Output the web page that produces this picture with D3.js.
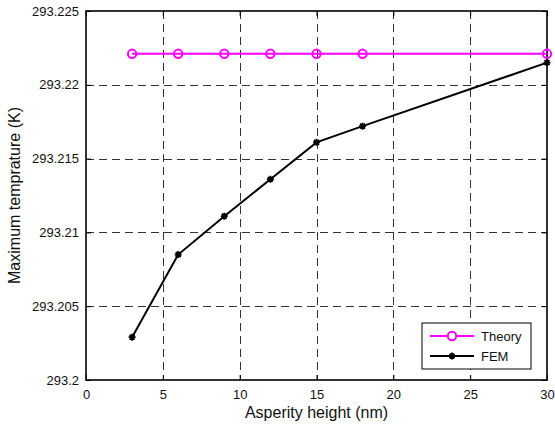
<!DOCTYPE html>
<html>
<head>
<meta charset="utf-8">
<script src="https://cdn.jsdelivr.net/npm/d3@7/dist/d3.min.js"></script>
<style>
  html, body { margin: 0; padding: 0; background: #fff; }
  svg { display: block; font-family: "Liberation Sans", Arial, sans-serif; }
</style>
</head>
<body>
<svg id="chart" width="555" height="430"></svg>
<script>
// ---- data ----
const asperityHeight = [3, 6, 9, 12, 15, 18, 30];
const theoryValues = [293.2221, 293.2221, 293.2221, 293.2221, 293.2221, 293.2221, 293.2221];
const femValues = [293.2029, 293.2085, 293.2111, 293.2136, 293.2161, 293.2172, 293.2215];
const xTicks = [0, 5, 10, 15, 20, 25, 30];
const xTickLabels = ["0", "5", "10", "15", "20", "25", "30"];
const yTicks = [293.2, 293.205, 293.21, 293.215, 293.22, 293.225];
const yTickLabels = ["293.2", "293.205", "293.21", "293.215", "293.22", "293.225"];
const seriesNames = ["Theory", "FEM"];

// ---- layout ----
const L = 86, R = 547, T = 11, B = 380;
const svg = d3.select("#chart");
svg.append("rect").attr("width", 555).attr("height", 430).attr("fill", "#fff");

const x = d3.scaleLinear().domain([0, 30]).range([L, R]);
const y = d3.scaleLinear().domain([293.2, 293.225]).range([B, T]);

// grid
const grid = svg.append("g").attr("stroke", "#333").attr("stroke-width", 1)
  .attr("stroke-dasharray", "8,5").attr("fill", "none");
xTicks.filter(v => v > 0 && v < 30).forEach(v => {
  grid.append("line").attr("x1", Math.round(x(v)) + 0.5).attr("x2", Math.round(x(v)) + 0.5)
    .attr("y1", T).attr("y2", B);
});
yTicks.filter(v => v > 293.2 && v < 293.225).forEach(v => {
  grid.append("line").attr("y1", Math.round(y(v)) + 0.5).attr("y2", Math.round(y(v)) + 0.5)
    .attr("x1", L).attr("x2", R);
});

// axes (inward ticks)
const fmtX = (d, i) => xTickLabels[xTicks.indexOf(d)];
const fmtY = (d) => yTickLabels[yTicks.indexOf(d)];
const axB = svg.append("g").attr("transform", `translate(0,${B})`)
  .call(d3.axisBottom(x).tickValues(xTicks).tickFormat(fmtX).tickSizeInner(-5).tickSizeOuter(0).tickPadding(10));
const axT = svg.append("g").attr("transform", `translate(0,${T})`)
  .call(d3.axisTop(x).tickValues(xTicks).tickFormat("").tickSizeInner(-5).tickSizeOuter(0));
const axL = svg.append("g").attr("transform", `translate(${L},0)`)
  .call(d3.axisLeft(y).tickValues(yTicks).tickFormat(fmtY).tickSizeInner(-5).tickSizeOuter(0).tickPadding(7));
const axR = svg.append("g").attr("transform", `translate(${R},0)`)
  .call(d3.axisRight(y).tickValues(yTicks).tickFormat("").tickSizeInner(-5).tickSizeOuter(0));
[axB, axT, axL, axR].forEach(a => {
  a.selectAll(".domain").remove();
  a.selectAll("line").attr("stroke", "#000").attr("stroke-width", 1);
  a.selectAll("text").attr("font-size", 13).attr("fill", "#111")
    .attr("font-family", "'Liberation Sans', Arial, sans-serif");
});
// frame
svg.append("rect").attr("x", L).attr("y", T).attr("width", R - L).attr("height", B - T)
  .attr("fill", "none").attr("stroke", "#000").attr("stroke-width", 1.6);

// series
const line = d3.line().x(d => x(d[0])).y(d => y(d[1]));
const theoryData = asperityHeight.map((h, i) => [h, theoryValues[i]]);
const femData = asperityHeight.map((h, i) => [h, femValues[i]]);

svg.append("path").datum(theoryData).attr("d", line)
  .attr("fill", "none").attr("stroke", "#ff00ff").attr("stroke-width", 2);
svg.append("path").datum(femData).attr("d", line)
  .attr("fill", "none").attr("stroke", "#000").attr("stroke-width", 2);

function star(g, cx, cy) {
  const s = 3.5;
  g.append("path")
    .attr("d", `M${cx - s},${cy}L${cx + s},${cy}M${cx},${cy - s}L${cx},${cy + s}` +
      `M${cx - s * 0.7},${cy - s * 0.7}L${cx + s * 0.7},${cy + s * 0.7}M${cx - s * 0.7},${cy + s * 0.7}L${cx + s * 0.7},${cy - s * 0.7}`)
    .attr("stroke", "#000").attr("stroke-width", 1.8).attr("fill", "none");
}

svg.append("g").selectAll("circle").data(theoryData).join("circle")
  .attr("cx", d => x(d[0])).attr("cy", d => y(d[1])).attr("r", 4.2)
  .attr("fill", "none").attr("stroke", "#ff00ff").attr("stroke-width", 2);
const femG = svg.append("g");
femData.forEach(d => star(femG, x(d[0]), y(d[1])));

// axis labels
svg.append("text").attr("x", (L + R) / 2).attr("y", 418).attr("text-anchor", "middle")
  .attr("font-size", 16).attr("fill", "#111").text("Asperity height (nm)");
svg.append("text").attr("transform", `translate(20,${(T + B) / 2}) rotate(-90)`)
  .attr("text-anchor", "middle").attr("font-size", 16).attr("fill", "#111")
  .text("Maximum temprature (K)");

// legend
const lg = svg.append("g");
lg.append("rect").attr("x", 422).attr("y", 323).attr("width", 109).attr("height", 46)
  .attr("fill", "#fff").attr("stroke", "#000").attr("stroke-width", 1);
const rows = [336, 356];
lg.append("line").attr("x1", 430).attr("x2", 474).attr("y1", rows[0]).attr("y2", rows[0])
  .attr("stroke", "#ff00ff").attr("stroke-width", 2);
lg.append("circle").attr("cx", 452).attr("cy", rows[0]).attr("r", 4.2)
  .attr("fill", "#fff").attr("stroke", "#ff00ff").attr("stroke-width", 2);
lg.append("line").attr("x1", 430).attr("x2", 474).attr("y1", rows[1]).attr("y2", rows[1])
  .attr("stroke", "#000").attr("stroke-width", 2);
star(lg, 452, rows[1]);
seriesNames.forEach((n, i) => {
  lg.append("text").attr("x", 481).attr("y", rows[i]).attr("dy", "0.35em")
    .attr("font-size", 13).attr("fill", "#111").text(n);
});
</script>
</body>
</html>
